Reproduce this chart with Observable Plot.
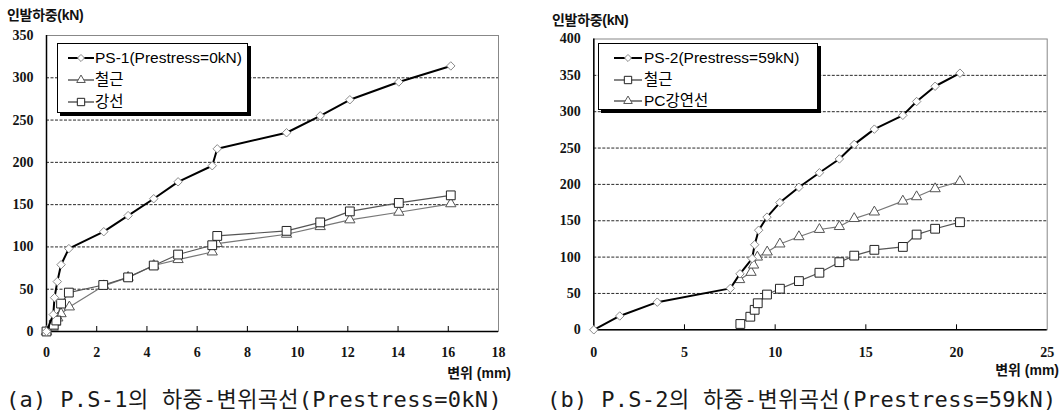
<!DOCTYPE html>
<html>
<head>
<meta charset="utf-8">
<script src="https://cdn.jsdelivr.net/npm/d3@7"></script>
<script src="https://cdn.jsdelivr.net/npm/@observablehq/plot@0.6"></script>
<style>
  body { margin: 0; background: #fff; }
  #page { position: relative; width: 1064px; height: 417px; overflow: hidden; background: #fff; }
  .abs { position: absolute; white-space: nowrap; }
  .ytitle { font: bold 14px "Liberation Sans", "Noto Sans CJK KR", sans-serif; color: #111; letter-spacing: -0.3px; }
  .xtitle { font: bold 14px "Liberation Sans", "Noto Sans CJK KR", sans-serif; color: #111; }
  .caption { font: 22px "DejaVu Sans Mono", "Noto Sans CJK KR", monospace; color: #1a1a1a; letter-spacing: 0.3px; }
  .legend { position: absolute; background: #fff; border: 1px solid #000; box-shadow: 3px 3px 0 #000; box-sizing: border-box; }
  .legend .lab { position: absolute; font: 15.5px "Liberation Sans", "Noto Sans CJK KR", sans-serif; color: #000; line-height: 18px; }
  .legend svg { position: absolute; overflow: visible; }
</style>
</head>
<body>
<div id="page"></div>
<script>
// ---- (a) P.S-1, prestress 0 kN ----
const xTicksA = [0, 2, 4, 6, 8, 10, 12, 14, 16, 18];
const yTicksA = [0, 50, 100, 150, 200, 250, 300, 350];
const gridA = [50, 100, 150, 200, 250, 300];

const ps1X = [0, 0.27, 0.32, 0.43, 0.58, 0.89, 2.28, 3.25, 4.27, 5.24, 6.6, 6.8, 9.56, 10.9, 12.08, 14.03, 16.1];
const ps1Y = [0, 20, 40, 59, 79, 98, 118, 137, 157, 177, 196, 216, 235, 255, 274, 295, 314];

const rebar1X = [0, 0.27, 0.36, 0.45, 0.58, 0.91, 2.28, 3.25, 4.27, 5.24, 6.6, 6.8, 9.56, 10.9, 12.08, 14.03, 16.1];
const rebar1Y = [0, 5, 11, 16, 21, 29, 54, 64, 78, 85, 94, 104, 115, 124, 132, 141, 151];

const strand1X = [0, 0.29, 0.39, 0.58, 0.89, 2.26, 3.25, 4.27, 5.24, 6.6, 6.8, 9.56, 10.9, 12.08, 14.03, 16.1];
const strand1Y = [0, 8, 13, 33, 46, 55, 64, 78, 91, 102, 113, 119, 129, 142, 152, 161];

// ---- (b) P.S-2, prestress 59 kN ----
const xTicksB = [0, 5, 10, 15, 20, 25];
const yTicksB = [0, 50, 100, 150, 200, 250, 300, 350, 400];
const gridB = [50, 100, 150, 200, 250, 300, 350];

const ps2X = [0, 1.43, 3.5, 7.53, 8.06, 8.73, 8.87, 9.09, 9.55, 10.26, 11.31, 12.44, 13.54, 14.36, 15.47, 17.04, 17.8, 18.82, 20.19];
const ps2Y = [0, 19, 38, 57, 77, 98, 117, 137, 155, 175, 196, 216, 235, 255, 276, 295, 314, 335, 353];

const rebar2X = [8.08, 8.63, 8.87, 9.04, 9.55, 10.26, 11.31, 12.44, 13.54, 14.36, 15.47, 17.04, 17.8, 18.82, 20.19];
const rebar2Y = [8, 18, 27.5, 36.5, 48.5, 56.5, 67, 78.5, 93, 102, 110, 114, 131, 139, 148];

const pc2X = [8.04, 8.67, 8.81, 9.02, 9.56, 10.26, 11.31, 12.44, 13.54, 14.36, 15.47, 17.04, 17.8, 18.82, 20.19];
const pc2Y = [69, 79, 89, 100, 107, 118, 128, 138, 142, 153, 162, 177, 183, 194, 204];

const yTitle = "인발하중(kN)";
const xTitle = "변위 (mm)";
const captionA = "(a) P.S-1의 하중-변위곡선(Prestress=0kN)";
const captionB = "(b) P.S-2의 하중-변위곡선(Prestress=59kN)";
const legendA = ["PS-1(Prestress=0kN)", "철근", "강선"];
const legendB = ["PS-2(Prestress=59kN)", "철근", "PC강연선"];

const pts = (xs, ys) => xs.map((x, i) => ({x, y: ys[i]}));

const styles = {
  ps:  {symbol: "diamond2",  r: 3.8, line: "#000", lineWidth: 2,   mark: "#8a8a8a"},
  tri: {symbol: "triangle2", r: 4.9, line: "#777", lineWidth: 1.2, mark: "#555"},
  sqr: {symbol: "square2",   r: 5.6, line: "#555", lineWidth: 1.2, mark: "#222"}
};

const tickFont = {fontFamily: "Liberation Serif", fontWeight: "bold", fontSize: 14, fill: "#141414"};

function seriesMarks(data, s) {
  return [
    Plot.line(data, {x: "x", y: "y", stroke: s.line, strokeWidth: s.lineWidth, curve: "linear"}),
    Plot.dot(data, {x: "x", y: "y", symbol: s.symbol, r: s.r, stroke: s.mark, fill: "#fff", strokeWidth: 1})
  ];
}

function chart(o) {
  const innerH = o.height - o.marginTop - o.marginBottom;
  return Plot.plot({
    width: o.width, height: o.height,
    marginTop: o.marginTop, marginRight: o.marginRight,
    marginBottom: o.marginBottom, marginLeft: o.marginLeft,
    style: {background: "transparent", overflow: "visible"},
    x: {domain: o.xDomain, axis: null},
    y: {domain: o.yDomain, axis: null},
    marks: [
      Plot.ruleY(o.grid, {stroke: "#111", strokeWidth: 0.9, strokeDasharray: "3,1.5"}),
      Plot.frame({stroke: "#888", strokeWidth: 1}),
      Plot.tickX(o.xTicks.slice(1, -1), {x: d => d, insetTop: innerH - 5, stroke: "#000", strokeWidth: 1}),
      Plot.ruleX([o.xDomain[0]], {stroke: "#000", strokeWidth: 1.5}),
      Plot.ruleY([o.yDomain[0]], {stroke: "#000", strokeWidth: 1.5}),
      // tick numerals
      Plot.text(o.xTicks, {x: d => d, y: o.yDomain[0], dy: o.xLabelDy, text: d => String(d), textAnchor: "middle", lineAnchor: "middle", ...tickFont}),
      Plot.text(o.yTicks, {y: d => d, x: o.xDomain[0], dx: -13, text: d => String(d), textAnchor: "end", lineAnchor: "middle", ...tickFont}),
      ...o.series.flatMap(([d, s]) => seriesMarks(d, s))
    ]
  });
}

const page = document.getElementById("page");

function place(node, left, top) {
  node.style.position = "absolute";
  node.style.left = left + "px";
  node.style.top = top + "px";
  page.appendChild(node);
}

function text(cls, str, left, top, alignRight) {
  const d = document.createElement("div");
  d.className = "abs " + cls;
  d.textContent = str;
  if (alignRight) { d.style.right = (1064 - left) + "px"; d.style.top = top + "px"; }
  else { d.style.left = left + "px"; d.style.top = top + "px"; }
  page.appendChild(d);
}

function legend(left, top, w, h, labels, kinds, sx0, sx1, tx, rowYs) {
  const box = document.createElement("div");
  box.className = "legend";
  box.style.left = left + "px"; box.style.top = top + "px";
  box.style.width = w + "px"; box.style.height = h + "px";
  labels.forEach((lab, i) => {
    const s = styles[kinds[i]];
    const sw = sx1 - sx0;
    const svg = d3.create("svg").attr("width", sw).attr("height", 12)
      .style("left", sx0 + "px").style("top", (rowYs[i] - 6) + "px");
    svg.append("line").attr("x1", 0).attr("x2", sw).attr("y1", 6).attr("y2", 6)
      .attr("stroke", s.line === "#000" ? "#000" : "#333").attr("stroke-width", s.lineWidth);
    const sym = {diamond2: d3.symbolDiamond2, triangle2: d3.symbolTriangle2, square2: d3.symbolSquare2}[s.symbol];
    svg.append("path").attr("d", d3.symbol(sym, Math.PI * s.r * s.r * 0.7)())
      .attr("transform", `translate(${sw / 2},6)`)
      .attr("fill", "#fff").attr("stroke", s.mark).attr("stroke-width", 1);
    box.appendChild(svg.node());
    const t = document.createElement("div");
    t.className = "lab";
    t.textContent = lab;
    t.style.left = tx + "px"; t.style.top = (rowYs[i] - 9) + "px";
    box.appendChild(t);
  });
  page.appendChild(box);
}

// left chart
place(chart({
  width: 530, height: 385, marginTop: 35, marginRight: 32, marginBottom: 54, marginLeft: 46,
  xDomain: [0, 18], yDomain: [0, 350], xTicks: xTicksA, yTicks: yTicksA, grid: gridA, xLabelDy: 21,
  series: [[pts(rebar1X, rebar1Y), styles.tri], [pts(strand1X, strand1Y), styles.sqr], [pts(ps1X, ps1Y), styles.ps]]
}), 0, 0);

// right chart
place(chart({
  width: 532, height: 385, marginTop: 38.5, marginRight: 17.3, marginBottom: 55.7, marginLeft: 61.3,
  xDomain: [0, 25], yDomain: [0, 400], xTicks: xTicksB, yTicks: yTicksB, grid: gridB, xLabelDy: 23,
  series: [[pts(pc2X, pc2Y), styles.tri], [pts(rebar2X, rebar2Y), styles.sqr], [pts(ps2X, ps2Y), styles.ps]]
}), 532, 0);

text("ytitle", yTitle, 7, 4);
text("ytitle", yTitle, 552, 9);
text("xtitle", xTitle, 511, 362, true);
text("xtitle", xTitle, 1059, 359, true);
text("caption", captionA, 6, 381);
text("caption", captionB, 547, 381);

legend(57, 43, 191, 70, legendA, ["ps", "tri", "sqr"], 10, 36, 37, [14, 36, 58]);
legend(598, 43, 220, 67, legendB, ["ps", "sqr", "tri"], 15, 43, 45, [14, 36, 57]);
</script>
</body>
</html>
